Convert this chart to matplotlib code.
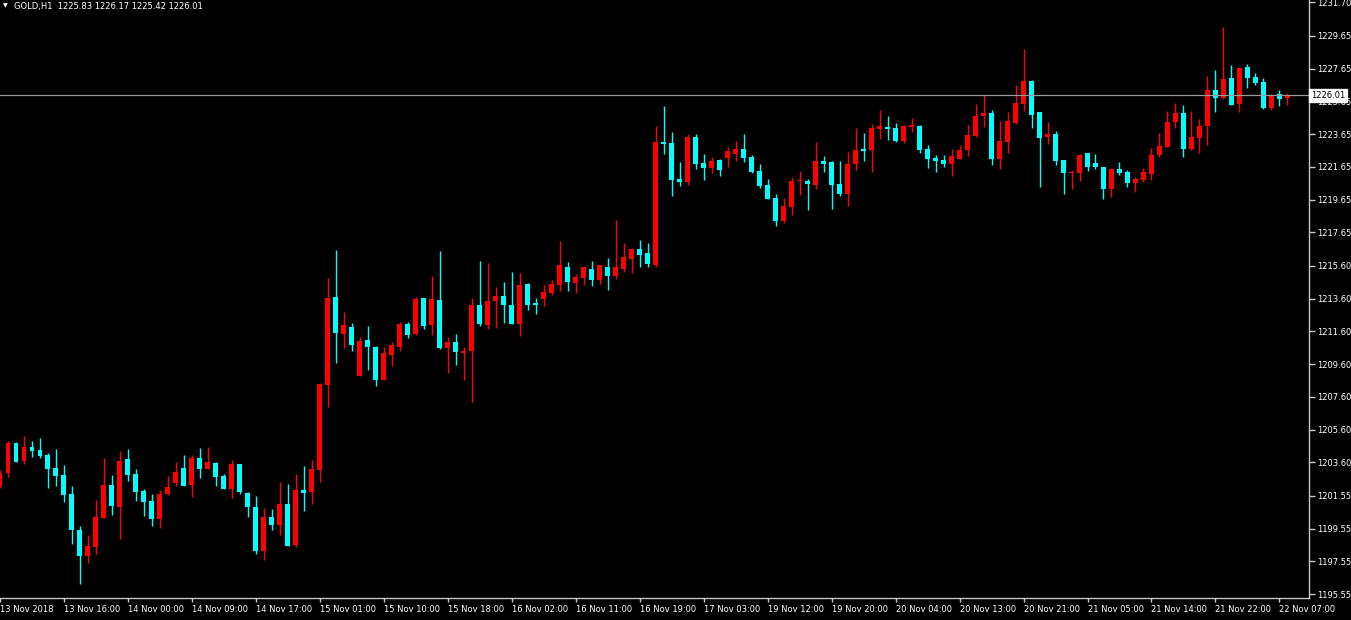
import numpy as np
import matplotlib
matplotlib.use('Agg')
import matplotlib.pyplot as plt
import matplotlib.transforms as mtransforms

# GOLD H1 candles (oldest first)
opens = [1202.15, 1202.96, 1204.80, 1203.70, 1204.53, 1204.35, 1204.05, 1203.25, 1202.82, 1201.66, 1199.46, 1197.89,
         1198.44, 1200.22, 1202.21, 1200.89, 1203.80, 1202.88, 1201.85, 1201.24, 1200.15, 1201.68, 1202.35, 1203.25,
         1202.23, 1203.86, 1203.21, 1203.56, 1202.76, 1201.99, 1203.50, 1201.74, 1200.89, 1198.20, 1200.28, 1199.79,
         1201.07, 1198.57, 1201.93, 1201.80, 1203.15, 1208.34, 1213.70, 1211.46, 1211.86, 1208.89, 1211.07, 1210.64,
         1208.65, 1210.17, 1210.66, 1212.05, 1211.46, 1213.64, 1212.01, 1213.51, 1210.60, 1210.95, 1210.29, 1210.42,
         1213.21, 1212.01, 1213.47, 1213.76, 1213.21, 1212.07, 1214.49, 1213.35, 1213.59, 1213.96, 1214.45, 1215.53,
         1214.57, 1214.88, 1215.41, 1214.75, 1215.53, 1215.00, 1215.43, 1216.04, 1216.63, 1216.38, 1215.67, 1223.17,
         1223.10, 1220.91, 1220.74, 1223.47, 1221.88, 1221.60, 1222.07, 1222.21, 1222.45, 1222.74, 1222.25, 1221.39,
         1220.54, 1219.74, 1218.36, 1219.21, 1220.77, 1220.78, 1220.56, 1222.01, 1221.94, 1220.60, 1220.01, 1221.84,
         1222.74, 1222.70, 1223.98, 1224.08, 1224.02, 1223.23, 1224.10, 1224.14, 1222.74, 1222.19, 1222.07, 1221.84,
         1222.15, 1222.70, 1223.53, 1224.77, 1224.94, 1222.15, 1223.18, 1224.33, 1225.51, 1226.89, 1225.00, 1223.49,
         1223.65, 1222.07, 1221.29, 1221.29, 1222.49, 1221.88, 1221.64, 1220.31, 1221.52, 1221.33, 1220.68, 1220.86,
         1221.23, 1222.39, 1222.88, 1224.41, 1224.94, 1222.76, 1223.43, 1224.16, 1226.34, 1225.87, 1227.08, 1225.51,
         1227.75, 1227.14, 1226.83, 1225.26, 1226.10, 1225.83]
highs = [1203.13, 1204.90, 1204.84, 1205.22, 1204.90, 1205.08, 1204.17, 1204.41, 1203.44, 1202.15, 1199.71, 1199.16,
         1201.32, 1203.86, 1202.82, 1204.29, 1204.41, 1203.19, 1201.97, 1201.66, 1201.91, 1202.76, 1203.62, 1204.05,
         1204.05, 1204.47, 1204.53, 1203.62, 1202.88, 1203.74, 1203.50, 1201.80, 1201.56, 1200.83, 1200.77, 1202.41,
         1202.29, 1202.90, 1203.39, 1203.76, 1208.46, 1214.88, 1216.57, 1212.78, 1212.11, 1211.25, 1211.93, 1210.70,
         1210.64, 1210.95, 1212.17, 1212.17, 1213.70, 1213.64, 1214.98, 1216.51, 1211.25, 1211.44, 1210.64, 1213.64,
         1215.90, 1215.77, 1214.31, 1214.61, 1215.22, 1215.16, 1214.55, 1213.64, 1214.43, 1214.74, 1217.12, 1215.84,
         1215.12, 1215.53, 1215.90, 1215.65, 1216.08, 1218.40, 1217.00, 1216.69, 1217.18, 1217.00, 1224.14, 1225.37,
         1223.78, 1221.94, 1223.65, 1223.65, 1222.43, 1222.25, 1222.13, 1222.86, 1223.23, 1223.65, 1222.37, 1221.82,
         1220.91, 1219.99, 1219.74, 1221.03, 1221.39, 1220.91, 1223.17, 1222.31, 1222.01, 1222.01, 1222.55, 1224.02,
         1223.72, 1224.27, 1225.12, 1224.75, 1224.33, 1224.20, 1224.63, 1224.20, 1222.98, 1222.37, 1222.37, 1222.74,
         1222.98, 1224.20, 1225.49, 1226.04, 1225.12, 1224.45, 1225.00, 1226.65, 1228.85, 1226.95, 1225.00, 1224.39,
         1223.84, 1222.07, 1221.46, 1222.43, 1222.49, 1222.43, 1221.64, 1221.58, 1221.94, 1221.46, 1221.03, 1221.58,
         1222.80, 1223.72, 1225.06, 1225.55, 1225.43, 1225.06, 1224.57, 1227.20, 1227.56, 1230.19, 1227.87, 1227.69,
         1227.93, 1227.38, 1227.08, 1226.10, 1226.34, 1226.17]
lows = [1202.03, 1202.72, 1203.64, 1203.51, 1203.94, 1203.88, 1202.05, 1202.17, 1201.19, 1198.63, 1196.18, 1197.47,
        1198.02, 1200.22, 1200.38, 1198.93, 1202.48, 1201.25, 1200.34, 1199.73, 1199.60, 1201.62, 1202.17, 1202.17,
        1201.50, 1202.66, 1203.21, 1202.17, 1201.99, 1201.44, 1201.68, 1200.28, 1198.02, 1197.63, 1199.48, 1199.18,
        1198.50, 1198.44, 1200.64, 1201.07, 1202.41, 1207.00, 1209.68, 1210.60, 1210.42, 1208.89, 1209.26, 1208.28,
        1208.65, 1209.50, 1210.42, 1211.21, 1211.39, 1211.76, 1211.39, 1210.54, 1209.07, 1209.56, 1208.65, 1207.30,
        1211.94, 1211.76, 1211.82, 1212.13, 1212.07, 1211.33, 1212.92, 1212.68, 1213.17, 1213.84, 1214.08, 1214.08,
        1213.96, 1214.45, 1214.39, 1214.51, 1214.14, 1214.81, 1215.24, 1215.18, 1215.55, 1215.55, 1215.55, 1222.45,
        1219.89, 1220.50, 1220.56, 1221.53, 1220.86, 1221.29, 1221.11, 1221.66, 1222.01, 1221.96, 1221.29, 1220.37,
        1219.70, 1218.05, 1218.24, 1218.72, 1219.93, 1219.01, 1220.31, 1221.35, 1219.09, 1219.89, 1219.27, 1221.47,
        1222.02, 1221.35, 1223.37, 1223.29, 1223.17, 1223.10, 1223.78, 1222.51, 1221.60, 1221.35, 1221.66, 1221.11,
        1222.15, 1222.33, 1223.47, 1224.08, 1221.78, 1221.53, 1222.51, 1224.28, 1225.08, 1224.04, 1220.44, 1223.06,
        1221.78, 1220.01, 1220.31, 1220.80, 1221.41, 1221.53, 1219.70, 1219.82, 1221.17, 1220.44, 1220.13, 1220.74,
        1220.86, 1222.27, 1222.88, 1224.04, 1222.27, 1222.70, 1222.51, 1223.00, 1225.02, 1225.81, 1225.44, 1225.02,
        1226.48, 1226.67, 1225.20, 1225.14, 1225.38, 1225.42]
closes = [1202.95, 1204.80, 1203.64, 1204.53, 1204.31, 1204.00, 1203.21, 1202.78, 1201.62, 1199.48, 1197.89, 1198.49,
          1200.26, 1202.21, 1200.93, 1203.68, 1202.84, 1201.80, 1201.19, 1200.15, 1201.66, 1202.09, 1203.01, 1202.17,
          1203.86, 1203.21, 1203.62, 1202.72, 1201.99, 1203.50, 1201.80, 1200.89, 1198.20, 1200.28, 1199.79, 1201.07,
          1198.50, 1201.93, 1201.74, 1203.21, 1208.40, 1213.65, 1211.52, 1211.99, 1210.78, 1211.01, 1210.66, 1208.65,
          1210.28, 1210.77, 1212.05, 1211.39, 1213.58, 1211.94, 1213.58, 1210.60, 1210.95, 1210.36, 1210.40, 1213.21,
          1212.07, 1213.45, 1213.76, 1213.23, 1212.07, 1214.43, 1213.23, 1213.23, 1214.00, 1214.49, 1215.65, 1214.63,
          1214.92, 1215.53, 1214.75, 1215.65, 1215.00, 1215.53, 1216.14, 1216.63, 1216.28, 1215.73, 1223.17, 1223.06,
          1220.86, 1220.74, 1223.47, 1221.84, 1221.60, 1222.01, 1221.47, 1222.62, 1222.74, 1222.21, 1221.35, 1220.50,
          1219.70, 1218.36, 1219.26, 1220.78, 1220.80, 1220.62, 1222.01, 1221.82, 1220.56, 1220.01, 1221.82, 1222.68,
          1222.62, 1224.02, 1224.14, 1223.96, 1223.23, 1224.14, 1224.20, 1222.70, 1222.15, 1222.02, 1221.84, 1222.31,
          1222.68, 1223.59, 1224.75, 1224.94, 1222.15, 1223.23, 1224.45, 1225.55, 1226.89, 1224.83, 1223.43, 1223.65,
          1222.02, 1221.29, 1221.35, 1222.37, 1221.66, 1221.66, 1220.31, 1221.52, 1221.29, 1220.68, 1220.92, 1221.33,
          1222.37, 1222.92, 1224.39, 1224.94, 1222.76, 1223.47, 1224.14, 1226.34, 1225.87, 1227.01, 1225.44, 1227.69,
          1227.09, 1226.79, 1225.26, 1225.99, 1225.81, 1226.01]

# axis labels
price_ticks = [1231.70, 1229.65, 1227.65, 1225.65, 1223.65, 1221.65, 1219.65, 1217.65, 1215.60, 1213.60,
               1211.60, 1209.60, 1207.60, 1205.60, 1203.60, 1201.55, 1199.55, 1197.55, 1195.55]
time_labels = ["13 Nov 2018", "13 Nov 16:00", "14 Nov 00:00", "14 Nov 09:00", "14 Nov 17:00", "15 Nov 01:00",
               "15 Nov 10:00", "15 Nov 18:00", "16 Nov 02:00", "16 Nov 11:00", "16 Nov 19:00", "17 Nov 03:00",
               "19 Nov 12:00", "19 Nov 20:00", "20 Nov 04:00", "20 Nov 13:00", "20 Nov 21:00", "21 Nov 05:00",
               "21 Nov 14:00", "21 Nov 22:00", "22 Nov 07:00"]
label_step = 8          # one time label every 8 bars
symbol = "GOLD,H1"

o = np.array(opens); h = np.array(highs); l = np.array(lows); c = np.array(closes)
x = np.arange(len(o))

bull_col = '#FF0000'
bear_col = '#00FFFF'
axis_col = '#C8C8C8'
fsize = 6

fig = plt.figure(figsize=(13.51, 6.2), dpi=100, facecolor='black')
ax = fig.add_axes([0, 22/620, 1309/1351, 598/620])
ax.set_facecolor('black')

cols = np.where(c >= o, bull_col, bear_col)
ax.vlines(x, l, h, colors=cols, linewidth=1)
body_lo = np.minimum(o, c)
body_h = np.maximum(np.abs(c - o), 0.06)
ax.bar(x, body_h, bottom=body_lo, width=0.62, color=cols, linewidth=0)

# last price line + marker
last = c[-1]
ax.axhline(last, color='#9A9A9A', linewidth=0.9)

ax.set_xlim(0.09, 163.7)
ax.set_ylim(1195.31, 1231.84)

for s in ['top', 'left']:
    ax.spines[s].set_visible(False)
for s in ['right', 'bottom']:
    ax.spines[s].set_color(axis_col)
    ax.spines[s].set_linewidth(1)

ax.yaxis.tick_right()
ax.set_yticks(price_ticks)
ax.set_yticklabels(['%.2f' % p for p in price_ticks])
ax.tick_params(axis='y', colors=axis_col, labelcolor='white', length=4, width=1, pad=2, labelsize=fsize)

ax.set_xticks(x[::label_step][:len(time_labels)])
ax.set_xticklabels(time_labels)
ax.tick_params(axis='x', colors=axis_col, labelcolor='white', length=3, width=1, pad=2, labelsize=fsize)
for t in ax.get_xticklabels():
    t.set_ha('left')

trans = mtransforms.blended_transform_factory(ax.transAxes, ax.transData)
ax.text(1.0015, last, '%.2f' % last, transform=trans, ha='left', va='center', fontsize=fsize,
        color='black', clip_on=False, zorder=10,
        bbox=dict(boxstyle='square,pad=0.2', fc='white', ec='white'))

# header
fig.text(3/1351, 1 - 6/620, u'\u25BC', color='white', fontsize=4.5, va='center', ha='left')
fig.text(14/1351, 1 - 6/620, '%s  %.2f %.2f %.2f %.2f' % (symbol, o[-1], h[-1], l[-1], c[-1]),
         color='white', fontsize=fsize, va='center', ha='left')

fig.savefig('out.png', dpi=100, facecolor='black')
